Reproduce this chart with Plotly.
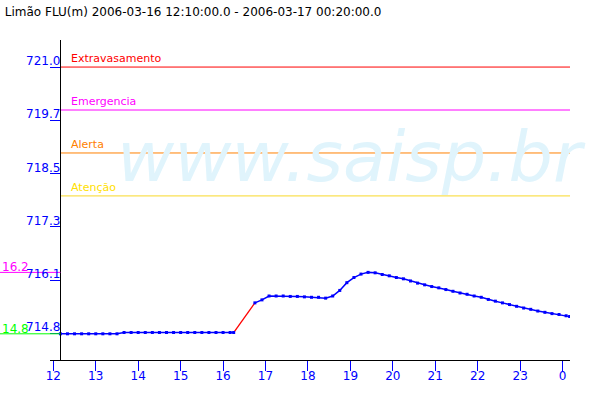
import plotly.graph_objects as go
import pandas as pd

# ---------------- data ----------------
title_text = "Limão FLU(m) 2006-03-16 12:10:00.0 - 2006-03-17 00:20:00.0"

# observed levels (m), first block: 12:10 .. 16:10 every 10 min, then 16:15
times_a = list(pd.date_range("2006-03-16 12:10", "2006-03-16 16:10", freq="10min")) + [pd.Timestamp("2006-03-16 16:15")]
levels_a = [714.79, 714.79, 714.79, 714.79, 714.79, 714.79, 714.79, 714.79, 714.79,
            714.82, 714.82, 714.82, 714.82, 714.82, 714.82, 714.82, 714.82, 714.82,
            714.82, 714.82, 714.82, 714.82, 714.82, 714.82, 714.82, 714.82]

# second block: 16:45 .. 00:05 every 10 min, then 00:10
times_b = list(pd.date_range("2006-03-16 16:45", "2006-03-17 00:05", freq="10min")) + [pd.Timestamp("2006-03-17 00:10")]
levels_b = [715.51, 715.58, 715.67, 715.67, 715.67, 715.66, 715.66, 715.65,
            715.64, 715.64, 715.62, 715.67, 715.80, 715.98,
            716.10, 716.18, 716.22, 716.21, 716.17, 716.14,
            716.10, 716.07, 716.02, 715.97, 715.93, 715.89,
            715.86, 715.82, 715.78, 715.74, 715.71, 715.67,
            715.64, 715.59, 715.55, 715.51, 715.47, 715.43,
            715.39, 715.36, 715.32, 715.29, 715.26, 715.24,
            715.21, 715.19]

# gap (drawn in red)
gap_times = [times_a[-1], times_b[0]]
gap_levels = [levels_a[-1], levels_b[0]]

# alert thresholds
threshold_names = ["Extravasamento", "Emergencia", "Alerta", "Atenção"]
threshold_values = [721.0, 720.0, 719.0, 718.0]
threshold_line_colors = ["#FF0000", "#FF00FF", "#FF8000", "#F8D828"]
threshold_text_colors = ["#FF0000", "#FF00FF", "#FF8000", "#FFE000"]

# axes
y_tickvals = [714.8, 716.04, 717.28, 718.52, 719.76, 721.0]
y_ticktext = ["714.8", "716.1", "717.3", "718.5", "719.7", "721.0"]
x_tickvals = list(pd.date_range("2006-03-16 12:00", "2006-03-17 00:00", freq="1h"))
x_ticktext = ["12", "13", "14", "15", "16", "17", "18", "19", "20", "21", "22", "23", "0"]
x_range = ["2006-03-16 11:55:18", "2006-03-17 00:10:30"]
y_range = [714.18, 721.63]
data_start = "2006-03-16 12:10"

FONT = "DejaVu Sans"
BLUE = "#0000FF"
W, H = 600, 400
ML, MR, MT, MB = 50, 30, 40, 40
PW = W - ML - MR

yaxis_pos = 10.4 / PW  # y axis sits at 12:10

fig = go.Figure()

fig.add_trace(go.Scatter(x=gap_times, y=gap_levels, mode="lines",
                         line=dict(color="#FF0000", width=1.3), hoverinfo="skip"))
fig.add_trace(go.Scatter(x=times_a, y=levels_a, mode="lines+markers",
                         line=dict(color=BLUE, width=1.5),
                         marker=dict(symbol="square", size=3, color=BLUE)))
fig.add_trace(go.Scatter(x=times_b, y=levels_b, mode="lines+markers",
                         line=dict(color=BLUE, width=1.5),
                         marker=dict(symbol="square", size=3, color=BLUE)))

shapes = []
annotations = []

# watermark
annotations.append(dict(text="www.saisp.br", xref="paper", yref="paper",
                        x=0.579, y=0.635, xanchor="center", yanchor="middle",
                        showarrow=False,
                        font=dict(family=FONT, size=70, color="rgb(224,244,252)", style="italic")))

# threshold lines + labels
for name, val, lc, tc in zip(threshold_names, threshold_values, threshold_line_colors, threshold_text_colors):
    shapes.append(dict(type="line", xref="x", yref="y", x0=data_start, x1=x_range[1],
                       y0=val, y1=val, line=dict(color=lc, width=1), layer="below"))
    annotations.append(dict(text=name, xref="paper", yref="y", x=18.5 / PW, y=val,
                            xanchor="left", yanchor="bottom", showarrow=False,
                            font=dict(family=FONT, size=11, color=tc)))

# y tick labels (sit above the tick mark)
for v, t in zip(y_tickvals, y_ticktext):
    annotations.append(dict(text=t, xref="paper", yref="y", x=yaxis_pos, y=v,
                            xanchor="right", yanchor="bottom", showarrow=False,
                            xshift=2, yshift=-3,
                            font=dict(family=FONT, size=12, color=BLUE)))

# max / min markers on the left
all_levels = levels_a + levels_b
max_level = max(all_levels)
min_level = min(all_levels)
for val, col in [(max_level, "#FF00FF"), (min_level, "#00FF00")]:
    shapes.append(dict(type="line", xref="paper", yref="y", x0=-ML / PW, x1=yaxis_pos,
                       y0=val, y1=val, line=dict(color=col, width=1)))
    annotations.append(dict(text=f"{val - 700:.1f}", xref="paper", yref="y", x=-ML / PW, y=val,
                            xanchor="left", yanchor="bottom", showarrow=False, yshift=-4,
                            font=dict(family=FONT, size=12, color=col)))

fig.update_layout(
    width=W, height=H,
    margin=dict(l=ML, r=MR, t=MT, b=MB),
    paper_bgcolor="white", plot_bgcolor="white",
    showlegend=False,
    font=dict(family=FONT, size=12, color="black"),
    title=dict(text=title_text, x=0.008, xanchor="left", xref="container",
               y=0.97, yanchor="middle", yref="container",
               font=dict(family=FONT, size=12, color="black")),
    shapes=shapes, annotations=annotations,
    xaxis=dict(range=x_range, type="date", tickvals=x_tickvals, ticktext=x_ticktext,
               showgrid=False, zeroline=False, showline=True, linecolor="black", linewidth=1,
               ticks="outside", ticklen=10, tickcolor=BLUE, tickwidth=1,
               ticklabelstandoff=-5,
               tickfont=dict(family=FONT, size=12, color=BLUE)),
    yaxis=dict(range=y_range, tickvals=y_tickvals, ticktext=y_ticktext,
               showticklabels=False, anchor="free", position=yaxis_pos,
               showgrid=False, zeroline=False, showline=True, linecolor="black", linewidth=1,
               ticks="outside", ticklen=10, tickcolor=BLUE, tickwidth=1),
)

fig.write_html("out.html", config={"displayModeBar": False},
               post_script="document.body.style.margin='0';")
